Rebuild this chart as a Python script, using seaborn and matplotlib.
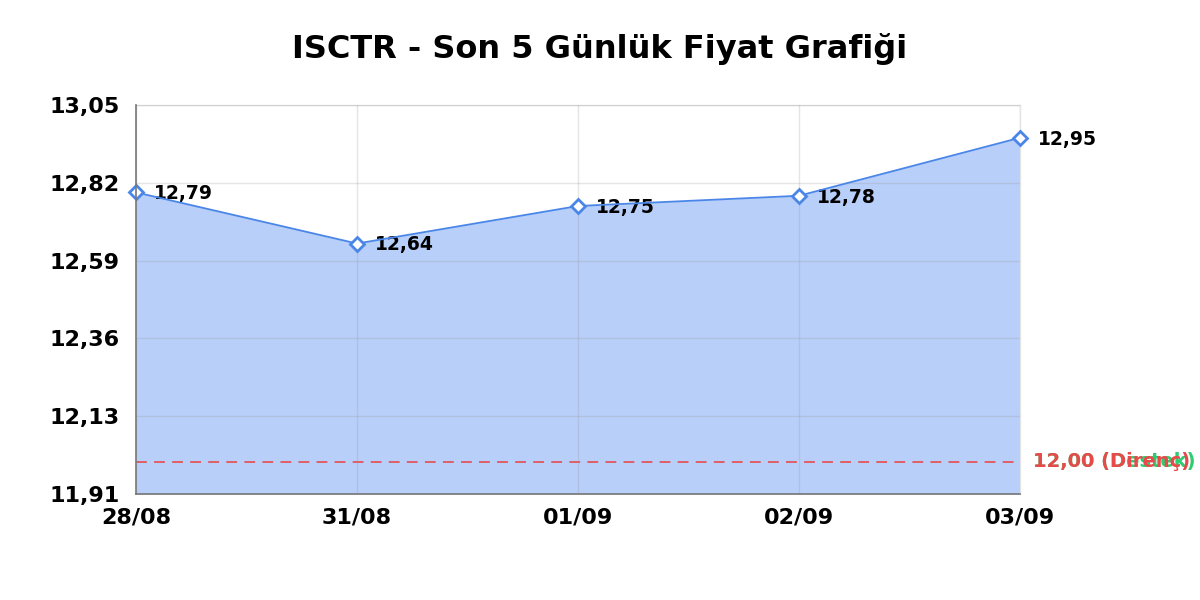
import numpy as np
import pandas as pd
import matplotlib
matplotlib.use("Agg")
import matplotlib.pyplot as plt
import seaborn as sns

# data
DATES = ["28/08", "31/08", "01/09", "02/09", "03/09"]
PRICES = [12.79, 12.64, 12.75, 12.78, 12.95]
SUPPORT = 12.00
RESISTANCE = 12.00
Y_MIN, Y_MAX = 11.906, 13.046
N_TICKS = 6

LINE_BLUE = "#4a86e8"
FILL_BLUE = "#b8cff9"
RED = "#e84a4a"
GREEN = "#2ecc71"


def fmt(v):
    return f"{v:.2f}".replace(".", ",")


sns.set_style("white")
plt.rcParams["font.family"] = ["DejaVu Sans"]
plt.rcParams["text.color"] = "black"
plt.rcParams["xtick.color"] = "black"
plt.rcParams["ytick.color"] = "black"

df = pd.DataFrame({"date": DATES, "price": PRICES})
df["x"] = np.arange(len(df))

fig = plt.figure(figsize=(12, 6), dpi=100)
ax = fig.add_axes([0.1133, 0.1767, 0.7367, 0.6483])

ax.fill_between(df["x"], Y_MIN, df["price"], color=FILL_BLUE, zorder=1, linewidth=0)
sns.lineplot(data=df, x="x", y="price", ax=ax, color=LINE_BLUE, linewidth=1.3,
             marker="D", markersize=7, markerfacecolor="white",
             markeredgecolor=LINE_BLUE, markeredgewidth=2, zorder=4, clip_on=False)

for _, row in df.iterrows():
    ax.annotate(fmt(row["price"]), (row["x"], row["price"]),
                xytext=(13, -1), textcoords="offset points", ha="left", va="center",
                fontsize=13.5, fontweight="bold", color="black", annotation_clip=False)

ax.axhline(SUPPORT, color=RED, linestyle=(0, (6, 4)), linewidth=1.3, alpha=0.9, zorder=3)
ax.text(1.015, SUPPORT, fmt(SUPPORT) + " (Destek)",
        transform=ax.get_yaxis_transform(), ha="left", va="center",
        fontsize=14, fontweight="bold", color=GREEN, clip_on=False)
ax.text(1.015, RESISTANCE, fmt(RESISTANCE) + " (Direnç)",
        transform=ax.get_yaxis_transform(), ha="left", va="center",
        fontsize=14, fontweight="bold", color=RED, clip_on=False)

yticks = np.linspace(Y_MIN, Y_MAX, N_TICKS)
ax.set_yticks(yticks)
ax.set_yticklabels([fmt(v) for v in yticks], fontsize=16, fontweight="bold")
ax.set_xticks(df["x"])
ax.set_xticklabels(DATES, fontsize=16, fontweight="bold")
ax.tick_params(axis="y", length=0, pad=12)
ax.tick_params(axis="x", length=0, pad=10)

ax.set_xlim(0, len(DATES) - 1)
ax.set_ylim(Y_MIN, Y_MAX)
ax.set_xlabel("")
ax.set_ylabel("")
ax.grid(True, color="#999999", linewidth=1, alpha=0.25, zorder=2)
ax.set_axisbelow(False)

for side in ["top", "right"]:
    ax.spines[side].set_color("#e4e4e4")
    ax.spines[side].set_linewidth(1)
for side in ["left", "bottom"]:
    ax.spines[side].set_color("#777777")
    ax.spines[side].set_linewidth(1.2)
    ax.spines[side].set_zorder(5)

fig.suptitle("ISCTR - Son 5 Günlük Fiyat Grafiği", x=0.5, y=0.945,
             fontsize=23, fontweight="bold")

fig.savefig("out.png", dpi=100)
